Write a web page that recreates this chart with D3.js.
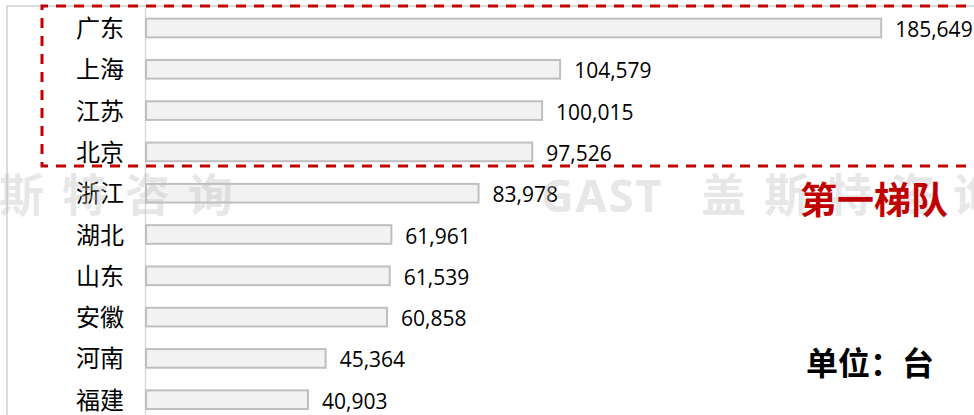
<!DOCTYPE html>
<html>
<head>
<meta charset="utf-8">
<script src="https://cdn.jsdelivr.net/npm/d3@7"></script>
<style>
html,body{margin:0;padding:0;background:#fff;}
svg{display:block;}
</style>
</head>
<body>
<svg id="chart" width="974" height="415"></svg>
<script>
const categories = ["广东","上海","江苏","北京","浙江","湖北","山东","安徽","河南","福建"];
const values = [185649,104579,100015,97526,83978,61961,61539,60858,45364,40903];
const tierLabel = "第一梯队";
const unitLabel = "单位：台";
const watermarkCN = "盖斯特咨询";
const watermarkEN = "GAST";

const svg = d3.select("#chart");
const W = 974, H = 415;

const x = d3.scaleLinear().domain([0, 200000]).range([146, 938]);
const y = d3.scaleBand().domain(categories).range([7.35, 420.35]).paddingInner(0.5).paddingOuter(0.25);

// frame
svg.append("path").attr("d", `M7,${H+5} V6 H${W+5}`).attr("fill","none").attr("stroke","#d0d0d0").attr("stroke-width",1.5);

// category axis
const axis = d3.axisLeft(y).tickSize(0).tickPadding(0);
const gAxis = svg.append("g").attr("transform","translate(145,0)").call(axis);
gAxis.select(".domain").attr("stroke","#d9d9d9").attr("stroke-width",1.5);
gAxis.selectAll(".tick text").remove();

// category labels
svg.append("g").selectAll("text").data(categories).join("text")
  .attr("x", 124)
  .attr("y", d => y(d) + y.bandwidth()/2 + 9)
  .attr("text-anchor","end")
  .attr("font-family","'Noto Sans CJK SC', sans-serif")
  .attr("font-size", 24)
  .attr("fill","#000")
  .text(d => d);

// bars
svg.append("g").selectAll("rect").data(values).join("rect")
  .attr("x", x(0))
  .attr("y", (d,i) => y(categories[i]) + 1)
  .attr("width", d => x(d) - x(0))
  .attr("height", y.bandwidth() - 2)
  .attr("fill","#f2f2f2")
  .attr("stroke","#bfbfbf")
  .attr("stroke-width",2);

// value labels
const fmt = d3.format(",");
svg.append("g").selectAll("text").data(values).join("text")
  .attr("x", d => x(d) + 14)
  .attr("y", (d,i) => y(categories[i]) + y.bandwidth()/2 + 9)
  .attr("font-family","'Open Sans', sans-serif")
  .attr("font-size", 21)
  .attr("fill","#000")
  .text(d => fmt(d));

// watermark
const wm = svg.append("g").attr("fill","#bfbfbf").attr("fill-opacity",0.4)
  .attr("font-family","'Noto Sans CJK SC', sans-serif").attr("font-weight","bold").attr("font-size",45);
wm.append("text").attr("x",-64).attr("y",212).attr("letter-spacing",18).text(watermarkCN);
wm.append("text").attr("x",541).attr("y",212).attr("font-family","'Noto Sans', sans-serif").attr("letter-spacing",2).text(watermarkEN);
wm.append("text").attr("x",701).attr("y",212).attr("letter-spacing",18).text(watermarkCN);

// first tier dashed box
svg.append("path").attr("d", `M${W+10},6 H42 V166 H${W+10}`)
  .attr("fill","none").attr("stroke","#c00000").attr("stroke-width",3)
  .attr("stroke-dasharray","10,8");

svg.append("text").attr("x",800).attr("y",214)
  .attr("font-family","'Noto Sans CJK SC', sans-serif").attr("font-weight","bold")
  .attr("font-size",37).attr("fill","#c00000").text(tierLabel);

svg.append("text").attr("x",806).attr("y",375)
  .attr("font-family","'Noto Sans CJK SC', sans-serif").attr("font-weight","bold")
  .attr("font-size",32).attr("fill","#000").text(unitLabel);
</script>
</body>
</html>
